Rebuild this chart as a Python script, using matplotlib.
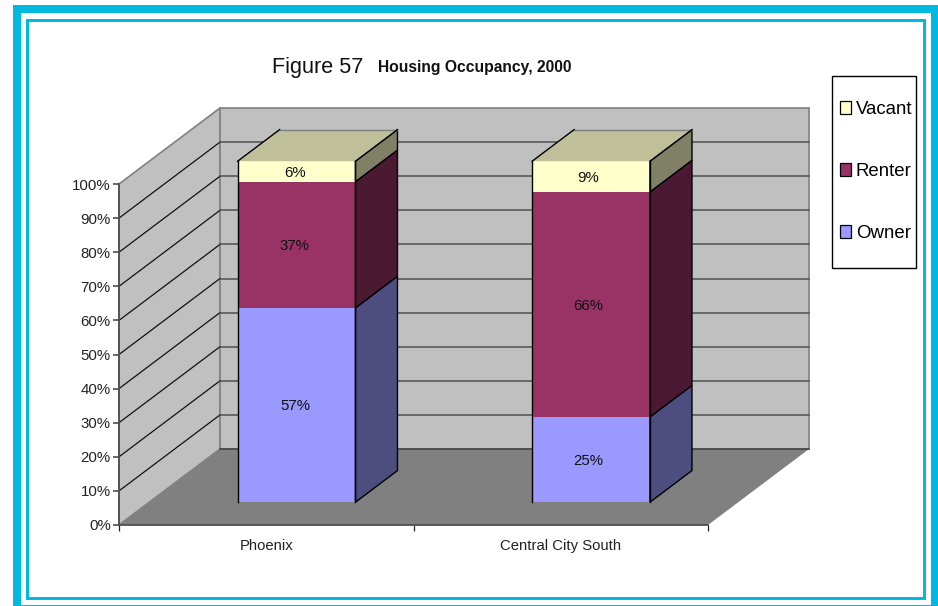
import matplotlib
matplotlib.use("Agg")
import matplotlib.pyplot as plt
from matplotlib.patches import Polygon, Patch, Rectangle

plt.rcParams['font.family'] = ['Liberation Sans', 'DejaVu Sans']

# Data
categories = ["Phoenix", "Central City South"]
series_names = ["Owner", "Renter", "Vacant"]
owner = [57, 25]
renter = [37, 66]
vacant = [6, 9]
y_ticks = [0, 10, 20, 30, 40, 50, 60, 70, 80, 90, 100]

face_colors = ["#9999FF", "#993366", "#FFFFCC"]
side_colors = ["#4D4D80", "#4C1933", "#808066"]
top_color = "#BFBF99"
cyan = "#00B9E0"

W, H = 938, 606
DX = 101 / 294.5   # depth of the box in x units
DY = 76 / 3.41     # depth of the box in y units
BAR_W = 0.4
FRONT = 0.30       # bar depth range, as a fraction of the box
BACK = 0.716


def fig_x(px):
    return px / W


def fig_y(py):
    return 1 - py / H


def shift(x, y, depth):
    return (x + DX * depth, y + DY * depth)


fig = plt.figure(figsize=(W / 100, H / 100), dpi=100, facecolor="white")

# page frame
for x0, y0, x1, y1 in [(13, 5, 21, 606), (13, 5, 938, 13), (931, 5, 938, 606), (13, 605, 938, 606),
                       (26, 19, 28.5, 600), (26, 19, 925.5, 21.5), (923, 19, 925.5, 600), (26, 597, 925.5, 600)]:
    fig.patches.append(Rectangle((fig_x(x0), fig_y(y1)), (x1 - x0) / W, (y1 - y0) / H,
                                 transform=fig.transFigure, facecolor=cyan, edgecolor="none"))

ax = fig.add_axes([fig_x(119), fig_y(525), 589 / W, 341 / H])
ax.set_xlim(0, 2)
ax.set_ylim(0, 100)
ax.patch.set_visible(False)

# walls and floor
ax.add_patch(Polygon([(0, 0), shift(0, 0, 1), shift(0, 100, 1), (0, 100)],
                     facecolor="#C0C0C0", edgecolor="#808080", lw=1.2, clip_on=False, zorder=1))
ax.add_patch(Polygon([shift(0, 0, 1), shift(2, 0, 1), shift(2, 100, 1), shift(0, 100, 1)],
                     facecolor="#C0C0C0", edgecolor="#808080", lw=1.2, clip_on=False, zorder=1))
ax.add_patch(Polygon([(0, 0), (2, 0), shift(2, 0, 1), shift(0, 0, 1)],
                     facecolor="#808080", edgecolor="none", clip_on=False, zorder=1.5))

for t in y_ticks[1:-1]:
    ax.plot([0, DX], [t, t + DY], color="#111111", lw=0.9, clip_on=False, zorder=2)
    ax.plot([DX, 2 + DX], [t + DY, t + DY], color="#505050", lw=1.1, clip_on=False, zorder=2)
ax.plot([DX, 2 + DX], [DY, DY], color="#404040", lw=1.1, clip_on=False, zorder=2)

# bars
stacks = [owner, renter, vacant]
for i, name in enumerate(categories):
    left = i + 0.5 - BAR_W / 2
    right = i + 0.5 + BAR_W / 2
    base = 0
    for j, values in enumerate(stacks):
        top = base + values[i]
        ax.add_patch(Polygon([shift(left, base, FRONT), shift(right, base, FRONT),
                              shift(right, top, FRONT), shift(left, top, FRONT)],
                             facecolor=face_colors[j], edgecolor="none", clip_on=False, zorder=3))
        ax.add_patch(Polygon([shift(right, base, FRONT), shift(right, base, BACK),
                              shift(right, top, BACK), shift(right, top, FRONT)],
                             facecolor=side_colors[j], edgecolor="black", lw=1.0, clip_on=False, zorder=3))
        cx, cy = shift(i + 0.5, (base + top) / 2, FRONT)
        ax.annotate("%d%%" % values[i], (cx, cy), xytext=(-1.2 - i, -0.8), textcoords="offset points",
                    ha="center", va="center", fontsize=10.8, color="#111111", zorder=5, annotation_clip=False)
        base = top
    # front verticals and the lid
    for x in [left, right]:
        ax.plot(*zip(shift(x, 0, FRONT), shift(x, base, FRONT)), color="black", lw=1.0,
                clip_on=False, zorder=4)
    ax.add_patch(Polygon([shift(left, base, FRONT), shift(right, base, FRONT),
                          shift(right, base, BACK), shift(left, base, BACK)],
                         facecolor=top_color, edgecolor="none", clip_on=False, zorder=3))
    ax.plot(*zip(shift(left, base, BACK), shift(right, base, BACK)), color="#808080", lw=1.0,
            clip_on=False, zorder=3.5)
    ax.plot(*zip(shift(left, base, FRONT), shift(left, base, BACK)), color="black", lw=1.0,
            clip_on=False, zorder=4)
    ax.plot(*zip(shift(right, base, FRONT), shift(right, base, BACK)), color="black", lw=1.0,
            clip_on=False, zorder=4)

# axes
for s in ["top", "right"]:
    ax.spines[s].set_visible(False)
for s in ["left", "bottom"]:
    ax.spines[s].set_color("#505050")
    ax.spines[s].set_linewidth(1.3)
    ax.spines[s].set_zorder(2.5)
ax.set_yticks(y_ticks)
ax.set_yticklabels(["%d%%" % t for t in y_ticks], fontsize=10.8, color="#222222")
ax.tick_params(axis="y", length=4.5, width=1.1, color="#404040", pad=1.5)
ax.set_xticks([0, 1, 2])
ax.set_xticklabels([])
ax.tick_params(axis="x", which="major", length=4.5, width=0.9, color="#222222")
ax.set_xticks([0.5, 1.5], minor=True)
ax.set_xticklabels(categories, minor=True, fontsize=10.7, color="#222222")
ax.tick_params(axis="x", which="minor", length=0, pad=10)

# title
fig.text(fig_x(272), fig_y(73), "Figure 57", fontsize=15.6, ha="left", va="baseline", color="#111111")
fig.text(fig_x(378), fig_y(72), "Housing Occupancy, 2000", fontsize=11.25, fontweight="bold", ha="left",
         va="baseline", color="#111111")

# legend
fig.patches.append(Rectangle((fig_x(832), fig_y(267.5)), 84 / W, 192 / H, transform=fig.transFigure,
                             facecolor="white", edgecolor="black", lw=1.0, zorder=6))
handles = [Patch(facecolor=face_colors[j], edgecolor="black", lw=0.9, label=series_names[j]) for j in [2, 1, 0]]
leg = fig.legend(handles=handles, loc="center left", bbox_to_anchor=(fig_x(832), fig_y(171.5)), frameon=False,
                 fontsize=13.4, labelspacing=2.42, handlelength=0.6, handleheight=0.65, handletextpad=0.26,
                 borderpad=0, borderaxespad=0.42)
leg.set_zorder(7)

fig.savefig("out.png", dpi=100)
